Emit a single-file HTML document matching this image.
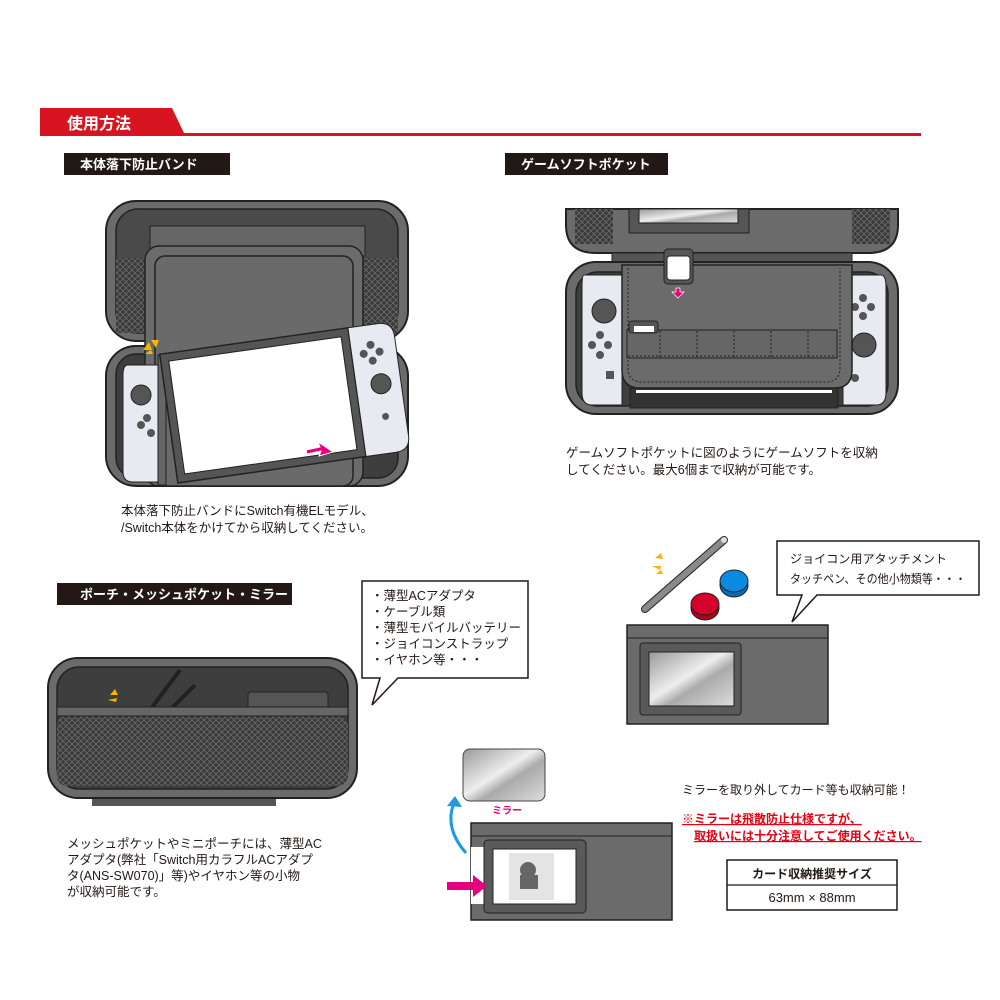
<!DOCTYPE html>
<html><head><meta charset="utf-8"><style>
html,body{margin:0;padding:0;background:#fff;}
svg{display:block}
text{font-family:"Liberation Sans","Noto Sans CJK JP",sans-serif;}
</style></head><body>
<svg width="1000" height="1000" viewBox="0 0 1000 1000" xmlns="http://www.w3.org/2000/svg">
<defs>
<pattern id="mesh" width="6" height="6" patternUnits="userSpaceOnUse">
<rect width="6" height="6" fill="#3a3a3a"/>
<path d="M0 0L6 6M6 0L0 6" stroke="#6a6a6a" stroke-width="0.8"/>
</pattern>
<linearGradient id="mir" x1="0" y1="0" x2="1" y2="1">
<stop offset="0" stop-color="#999"/><stop offset="0.45" stop-color="#eee"/><stop offset="0.6" stop-color="#aaa"/><stop offset="1" stop-color="#ddd"/>
</linearGradient>
</defs>

<!-- header -->
<path d="M40 108H172L184 133H40Z" fill="#d7141f"/>
<rect x="40" y="133" width="881" height="3" fill="#d7141f"/>
<text x="67" y="129" font-size="16" font-weight="bold" fill="#fff">使用方法</text>

<!-- section labels -->
<rect x="64" y="153" width="166" height="22" fill="#231815"/>
<text x="80" y="169" font-size="13" font-weight="bold" fill="#fff">本体落下防止バンド</text>
<rect x="505" y="153" width="163" height="22" fill="#231815"/>
<text x="521" y="169" font-size="13" font-weight="bold" fill="#fff">ゲームソフトポケット</text>
<rect x="57" y="583" width="235" height="22" fill="#231815"/>
<text x="80" y="599" font-size="13" font-weight="bold" fill="#fff">ポーチ・メッシュポケット・ミラー</text>

<!-- Case 1 -->
<rect x="106" y="201" width="302" height="140" rx="30" fill="#6b6b6b" stroke="#222" stroke-width="2"/>
<rect x="116" y="209" width="282" height="124" rx="22" fill="#4a4a4a" stroke="#222" stroke-width="1.5"/>
<rect x="116" y="258" width="35" height="75" fill="url(#mesh)"/>
<rect x="364" y="258" width="34" height="75" fill="url(#mesh)"/>
<rect x="150" y="226" width="215" height="30" fill="#666" stroke="#222"/>
<rect x="106" y="346" width="302" height="140" rx="30" fill="#6b6b6b" stroke="#222" stroke-width="2"/>
<rect x="116" y="354" width="282" height="124" rx="20" fill="#3e3e3e" stroke="#222" stroke-width="1.5"/>
<rect x="145" y="246" width="218" height="240" rx="14" fill="#6b6b6b" stroke="#222" stroke-width="1.5"/>
<rect x="155" y="256" width="198" height="230" rx="10" fill="#6a6a6a" stroke="#222" stroke-width="1.5"/>
<!-- left joycon -->
<path d="M128 365h30v117h-25q-10 0-10-10v-97q0-10 5-10z" fill="#e8eaf2" stroke="#222"/>
<circle cx="141" cy="395" r="10" fill="#555" stroke="#222"/>
<circle cx="147" cy="418" r="4" fill="#555"/><circle cx="141" cy="425" r="4" fill="#555"/><circle cx="151" cy="433" r="4" fill="#555"/>
<rect x="158" y="355" width="8" height="130" fill="#666" stroke="#222"/>
<!-- tilted switch -->
<g transform="rotate(-8 280 405)">
<rect x="168" y="338" width="190" height="130" fill="#555" stroke="#222" stroke-width="1.5"/>
<rect x="176" y="346" width="174" height="114" fill="#fff" stroke="#222"/>
<path d="M358 338h30q15 0 15 15v100q0 15-15 15h-30z" fill="#e8eaf2" stroke="#222"/>
<circle cx="378" cy="358" r="4" fill="#555"/><circle cx="386" cy="366" r="4" fill="#555"/><circle cx="370" cy="366" r="4" fill="#555"/><circle cx="378" cy="374" r="4" fill="#555"/>
<circle cx="383" cy="398" r="10" fill="#555" stroke="#222"/>
<circle cx="383" cy="431" r="3.5" fill="#555"/>
</g>
<path d="M333 452l-14 4 2-5-14 3-1-4 14-3-2-5z" fill="#e4007f" stroke="#fff"/>
<path d="M143 350l6-8 3 8zM151 340l8 0-3 8zM145 354l8 0 -2 -4z" fill="#f7b500"/>
<text x="121" y="515" font-size="12.5" fill="#231815">本体落下防止バンドにSwitch有機ELモデル、</text>
<text x="121" y="532" font-size="12.5" fill="#231815">/Switch本体をかけてから収納してください。</text>

<!-- Case 2 -->
<path d="M566 209h332v16q0 28-30 28h-272q-30 0-30-28z" fill="#6b6b6b" stroke="#222" stroke-width="2"/>
<rect x="575" y="209" width="38" height="35" fill="url(#mesh)"/>
<rect x="852" y="209" width="38" height="35" fill="url(#mesh)"/>
<rect x="629" y="209" width="120" height="24" fill="#555" stroke="#222"/>
<rect x="639" y="209" width="99" height="14" fill="url(#mir)" stroke="#222"/>
<rect x="612" y="253" width="240" height="12" fill="#555" stroke="#222"/>
<rect x="566" y="262" width="332" height="152" rx="30" fill="#6b6b6b" stroke="#222" stroke-width="2"/>
<rect x="576" y="272" width="312" height="134" rx="22" fill="#3e3e3e" stroke="#222" stroke-width="1.5"/>
<path d="M584 275h38v130h-30q-10 0-10-12v-105q0-13 2-13z" fill="#e8eaf2" stroke="#222"/>
<circle cx="604" cy="311" r="12" fill="#555" stroke="#222"/>
<circle cx="600" cy="335" r="4" fill="#555"/><circle cx="592" cy="345" r="4" fill="#555"/><circle cx="608" cy="345" r="4" fill="#555"/><circle cx="600" cy="355" r="4" fill="#555"/>
<rect x="606" y="371" width="8" height="8" fill="#555"/>
<path d="M843 275h38q5 0 5 12v106q0 12-10 12h-33z" fill="#e8eaf2" stroke="#222"/>
<circle cx="863" cy="298" r="4" fill="#555"/><circle cx="871" cy="307" r="4" fill="#555"/><circle cx="855" cy="307" r="4" fill="#555"/><circle cx="863" cy="316" r="4" fill="#555"/>
<circle cx="864" cy="345" r="12" fill="#555" stroke="#222"/>
<circle cx="855" cy="378" r="4" fill="#555"/>
<rect x="630" y="388" width="208" height="20" fill="#333" stroke="#222"/>
<rect x="636" y="390" width="196" height="3" fill="#fff"/>
<path d="M622 265h230v105q0 18-18 18h-194q-18 0-18-18z" fill="#6b6b6b" stroke="#222" stroke-width="1.5"/>
<path d="M628 268v100q0 14 14 14h184q14 0 14-14v-100" fill="none" stroke="#222" stroke-dasharray="2 2"/>
<rect x="627" y="330" width="210" height="28" fill="#666" stroke="#222"/>
<g stroke="#222" stroke-dasharray="2 2"><line x1="660" y1="331" x2="660" y2="357"/><line x1="697" y1="331" x2="697" y2="357"/><line x1="734" y1="331" x2="734" y2="357"/><line x1="771" y1="331" x2="771" y2="357"/><line x1="808" y1="331" x2="808" y2="357"/><line x1="628" y1="356" x2="836" y2="356"/></g>
<rect x="629" y="321" width="29" height="12" rx="3" fill="#555" stroke="#222"/>
<rect x="634" y="326" width="20" height="6" fill="#fff"/>
<rect x="664" y="249" width="29" height="35" rx="4" fill="#555" stroke="#222"/>
<rect x="667" y="256" width="23" height="24" rx="3" fill="#fff" stroke="#222"/>
<path d="M676 288h4v4h4l-6 6-6-6h4z" fill="#e4007f" stroke="#fff" stroke-width="0.7"/>
<text x="566" y="457" font-size="12.5" fill="#231815">ゲームソフトポケットに図のようにゲームソフトを収納</text>
<text x="566" y="474" font-size="12.5" fill="#231815">してください。最大6個まで収納が可能です。</text>

<!-- stylus, caps -->
<line x1="645" y1="609" x2="724" y2="540" stroke="#222" stroke-width="8" stroke-linecap="round"/>
<line x1="645" y1="609" x2="724" y2="540" stroke="#8a8a8a" stroke-width="6" stroke-linecap="round"/>
<circle cx="724" cy="540" r="3" fill="#ddd"/>
<path d="M655 558l6 -5 2 6zM652 566l9 0-1 4zM656 574l5 -4 2 4z" fill="#f7b500"/>
<ellipse cx="705" cy="608" rx="14" ry="12" fill="#b0001c" stroke="#222"/>
<ellipse cx="705" cy="604" rx="14" ry="11" fill="#d7002a" stroke="#222"/>
<ellipse cx="734" cy="585" rx="14" ry="12" fill="#0a6cb5" stroke="#222"/>
<ellipse cx="734" cy="581" rx="14" ry="11" fill="#0a8ae0" stroke="#222"/>
<!-- bubble 2 -->
<path d="M777 541h202v54h-162l-25 27 10-27h-25z" fill="#fff" stroke="#231815" stroke-width="1.5"/>
<text x="790" y="563" font-size="12" fill="#231815" textLength="157" lengthAdjust="spacingAndGlyphs">ジョイコン用アタッチメント</text>
<text x="790" y="583" font-size="12" fill="#231815" textLength="176" lengthAdjust="spacingAndGlyphs">タッチペン、その他小物類等・・・</text>
<!-- pouch right -->
<rect x="627" y="625" width="201" height="99" fill="#6b6b6b" stroke="#222" stroke-width="1.5"/>
<line x1="627" y1="638" x2="828" y2="638" stroke="#222"/>
<rect x="640" y="643" width="101" height="72" rx="3" fill="#5a5a5a" stroke="#222"/>
<rect x="649" y="652" width="85" height="54" fill="url(#mir)" stroke="#222"/>

<!-- bubble 1 -->
<path d="M362 581h166v97h-130l-26 27 8-27h-18z" fill="#fff" stroke="#231815" stroke-width="1.5"/>
<text x="371" y="600" font-size="12.5" fill="#231815">・薄型ACアダプタ</text>
<text x="371" y="616" font-size="12.5" fill="#231815">・ケーブル類</text>
<text x="371" y="632" font-size="12.5" fill="#231815">・薄型モバイルバッテリー</text>
<text x="371" y="648" font-size="12.5" fill="#231815">・ジョイコンストラップ</text>
<text x="371" y="664" font-size="12.5" fill="#231815">・イヤホン等・・・</text>

<!-- pouch case left -->
<rect x="92" y="798" width="184" height="8" fill="#555"/>
<rect x="48" y="658" width="309" height="140" rx="30" fill="#6b6b6b" stroke="#222" stroke-width="2"/>
<rect x="57" y="667" width="291" height="122" rx="22" fill="#3e3e3e" stroke="#222" stroke-width="1.5"/>
<rect x="248" y="692" width="80" height="20" rx="3" fill="#555" stroke="#222"/>
<path d="M150 710l30-40M170 710l25-25" stroke="#222" stroke-width="4" fill="none"/>
<rect x="57" y="716" width="291" height="70" rx="10" fill="url(#mesh)"/>
<rect x="57" y="707" width="291" height="9" fill="#666" stroke="#222"/>
<path d="M110 695l5-6 3 6zM108 700l9-2-1 4z" fill="#f7b500"/>
<text x="67" y="848" font-size="12.5" fill="#231815">メッシュポケットやミニポーチには、薄型AC</text>
<text x="67" y="864" font-size="12.5" fill="#231815">アダプタ(弊社「Switch用カラフルACアダプ</text>
<text x="67" y="880" font-size="12.5" fill="#231815">タ(ANS-SW070)」等)やイヤホン等の小物</text>
<text x="67" y="896" font-size="12.5" fill="#231815">が収納可能です。</text>

<!-- mirror + bottom pouch -->
<rect x="463" y="749" width="82" height="52" rx="7" fill="url(#mir)" stroke="#444"/>
<text x="492" y="814" font-size="10" font-weight="bold" fill="#e4007f">ミラー</text>
<path d="M466 853q-22-25-12-50" fill="none" stroke="#1e9be0" stroke-width="3"/>
<path d="M447 806l8-10 7 11z" fill="#1e9be0"/>
<rect x="471" y="823" width="201" height="97" fill="#6b6b6b" stroke="#222" stroke-width="1.5"/>
<line x1="471" y1="836" x2="672" y2="836" stroke="#222"/>
<rect x="471" y="847" width="16" height="57" fill="#fff"/>
<rect x="484" y="840" width="102" height="73" rx="4" fill="#5a5a5a" stroke="#222"/>
<rect x="493" y="849" width="83" height="55" fill="#fff" stroke="#222"/>
<rect x="509" y="853" width="45" height="47" fill="#e4e4e4"/>
<circle cx="528" cy="870" r="8" fill="#666"/><rect x="520" y="875" width="18" height="14" fill="#666"/>
<path d="M447 882h26v-7l14 11-14 11v-7h-26z" fill="#e4007f"/>
<text x="682" y="794" font-size="12" fill="#231815">ミラーを取り外してカード等も収納可能！</text>
<text x="682" y="823" font-size="12" font-weight="bold" fill="#e60012" text-decoration="underline">※ミラーは飛散防止仕様ですが、</text>
<text x="694" y="840" font-size="12" font-weight="bold" fill="#e60012" text-decoration="underline">取扱いには十分注意してご使用ください。</text>
<rect x="727" y="860" width="170" height="50" fill="#fff" stroke="#231815" stroke-width="1.5"/>
<line x1="727" y1="885" x2="897" y2="885" stroke="#231815" stroke-width="1.2"/>
<text x="812" y="878" font-size="12" font-weight="bold" fill="#231815" text-anchor="middle">カード収納推奨サイズ</text>
<text x="812" y="902" font-size="13" fill="#231815" text-anchor="middle">63mm × 88mm</text>
</svg>
</body></html>
